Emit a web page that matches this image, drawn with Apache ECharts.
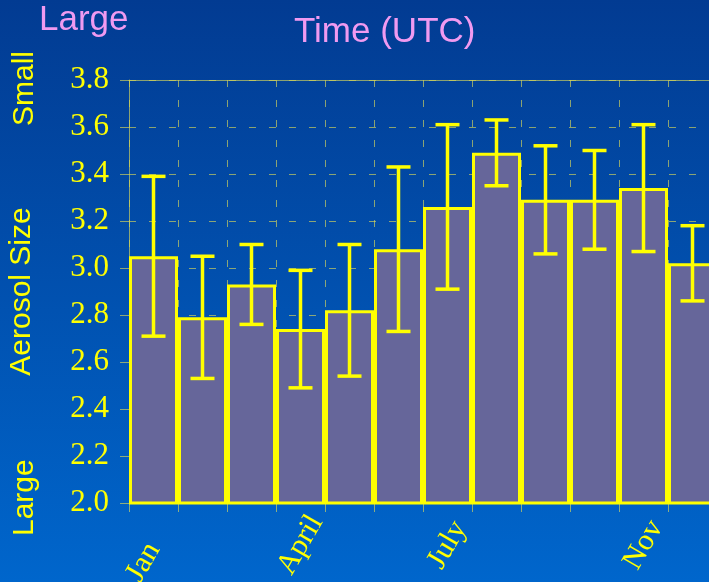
<!DOCTYPE html>
<html>
<head>
<meta charset="utf-8">
<script src="https://cdn.jsdelivr.net/npm/echarts@6/dist/echarts.min.js"></script>
<style>
  html, body { margin: 0; padding: 0; }
  #main { width: 709px; height: 582px; }
</style>
</head>
<body>
<div id="main"></div>
<script>
var months = ['Jan', 'Feb', 'Mar', 'April', 'May', 'Jun', 'July', 'Aug', 'Sep', 'Oct', 'Nov', 'Dec']
var shownMonths = [0, 3, 6, 10]
var sizeMean = [3.05, 2.79, 2.93, 2.74, 2.82, 3.08, 3.26, 3.49, 3.29, 3.29, 3.34, 3.02]
var sizeHigh = [3.39, 3.05, 3.10, 2.99, 3.10, 3.43, 3.61, 3.63, 3.52, 3.50, 3.61, 3.18]
var sizeLow = [2.71, 2.53, 2.76, 2.49, 2.54, 2.73, 2.91, 3.35, 3.06, 3.08, 3.07, 2.86]

var yellow = '#ffff00'
var pink = '#f09af0'
var gridColor = 'rgba(215, 215, 90, 0.65)'
var serif = 'Liberation Serif'
var sans = 'Liberation Sans'

var myChart = echarts.init(document.getElementById('main'))

// 误差线数据: [类目, 下限, 上限]
var errData = months.map(function (m, i) {
  return [i, sizeLow[i], sizeHigh[i]]
})

// Jan 标签稍微偏左下
var monthData = months.map(function (m, i) {
  if (i === 0) {
    return { value: m, textStyle: { align: 'right' } }
  }
  return m
})

var option = {
  backgroundColor: {
    type: 'linear', x: 0, y: 0, x2: 0, y2: 1,
    colorStops: [
      { offset: 0, color: '#023b92' },
      { offset: 1, color: '#0066cc' }
    ]
  },
  animation: false,
  grid: {
    left: 129,
    right: -8,
    top: 80,
    bottom: 79,
    containLabel: false,
    outerBoundsMode: 'none'
  },
  graphic: [
    {
      type: 'text', left: 39, top: 3,
      style: { text: 'Large', fill: pink, font: '35px ' + sans }
    },
    {
      type: 'text', left: 294, top: 15,
      style: { text: 'Time (UTC)', fill: pink, font: '35px ' + sans }
    },
    {
      type: 'text', x: 10, y: 126, rotation: Math.PI / 2,
      style: { text: 'Small', fill: yellow, font: '30px ' + sans, verticalAlign: 'top' }
    },
    {
      type: 'text', x: 10, y: 536, rotation: Math.PI / 2,
      style: { text: 'Large', fill: yellow, font: '30px ' + sans, verticalAlign: 'top' }
    }
  ],
  xAxis: [
    {
      type: 'category',
      data: monthData,
      boundaryGap: true,
      axisLine: { show: false },
      axisTick: { show: true, interval: 0, length: 9, lineStyle: { color: gridColor, width: 1 } },
      axisLabel: {
        interval: function (index) { return shownMonths.indexOf(index) >= 0 },
        rotate: 60,
        align: 'center',
        verticalAlign: 'middle',
        margin: 42,
        color: yellow,
        fontFamily: serif,
        fontSize: 30
      },
      splitLine: {
        show: true,
        interval: 0,
        lineStyle: { color: gridColor, type: [7, 13], width: 1 }
      }
    },
    {
      type: 'category',
      position: 'top',
      data: months,
      axisLine: { show: true, lineStyle: { color: gridColor, width: 1 } },
      axisTick: { show: false },
      axisLabel: { show: false }
    }
  ],
  yAxis: {
    type: 'value',
    min: 2.0,
    max: 3.8,
    interval: 0.2,
    name: 'Aerosol Size',
    nameLocation: 'middle',
    nameRotate: 90,
    nameGap: 92,
    nameTextStyle: { color: yellow, fontSize: 30, fontFamily: sans },
    axisLine: { show: true, lineStyle: { color: gridColor, width: 1 } },
    axisTick: { show: true, length: 9, lineStyle: { color: gridColor, width: 1 } },
    axisLabel: {
      color: yellow,
      margin: 20,
      fontFamily: serif,
      fontSize: 31,
      formatter: function (v) { return v.toFixed(1) }
    },
    splitLine: {
      show: true,
      lineStyle: { color: gridColor, type: [7, 13], width: 1 }
    }
  },
  series: [
    {
      type: 'bar',
      data: sizeMean,
      barCategoryGap: 0,
      itemStyle: {
        color: '#66669a',
        borderColor: yellow,
        borderWidth: 3
      }
    },
    {
      type: 'custom',
      data: errData,
      z: 5,
      renderItem: function (params, api) {
        var lo = api.coord([api.value(0), api.value(1)])
        var hi = api.coord([api.value(0), api.value(2)])
        var half = 12
        var style = { stroke: yellow, lineWidth: 3.5 }
        return {
          type: 'group',
          children: [
            { type: 'line', shape: { x1: hi[0], y1: hi[1], x2: lo[0], y2: lo[1] }, style: style },
            { type: 'line', shape: { x1: hi[0] - half, y1: hi[1], x2: hi[0] + half, y2: hi[1] }, style: style },
            { type: 'line', shape: { x1: lo[0] - half, y1: lo[1], x2: lo[0] + half, y2: lo[1] }, style: style }
          ]
        }
      }
    }
  ]
}
myChart.setOption(option)
</script>
</body>
</html>
